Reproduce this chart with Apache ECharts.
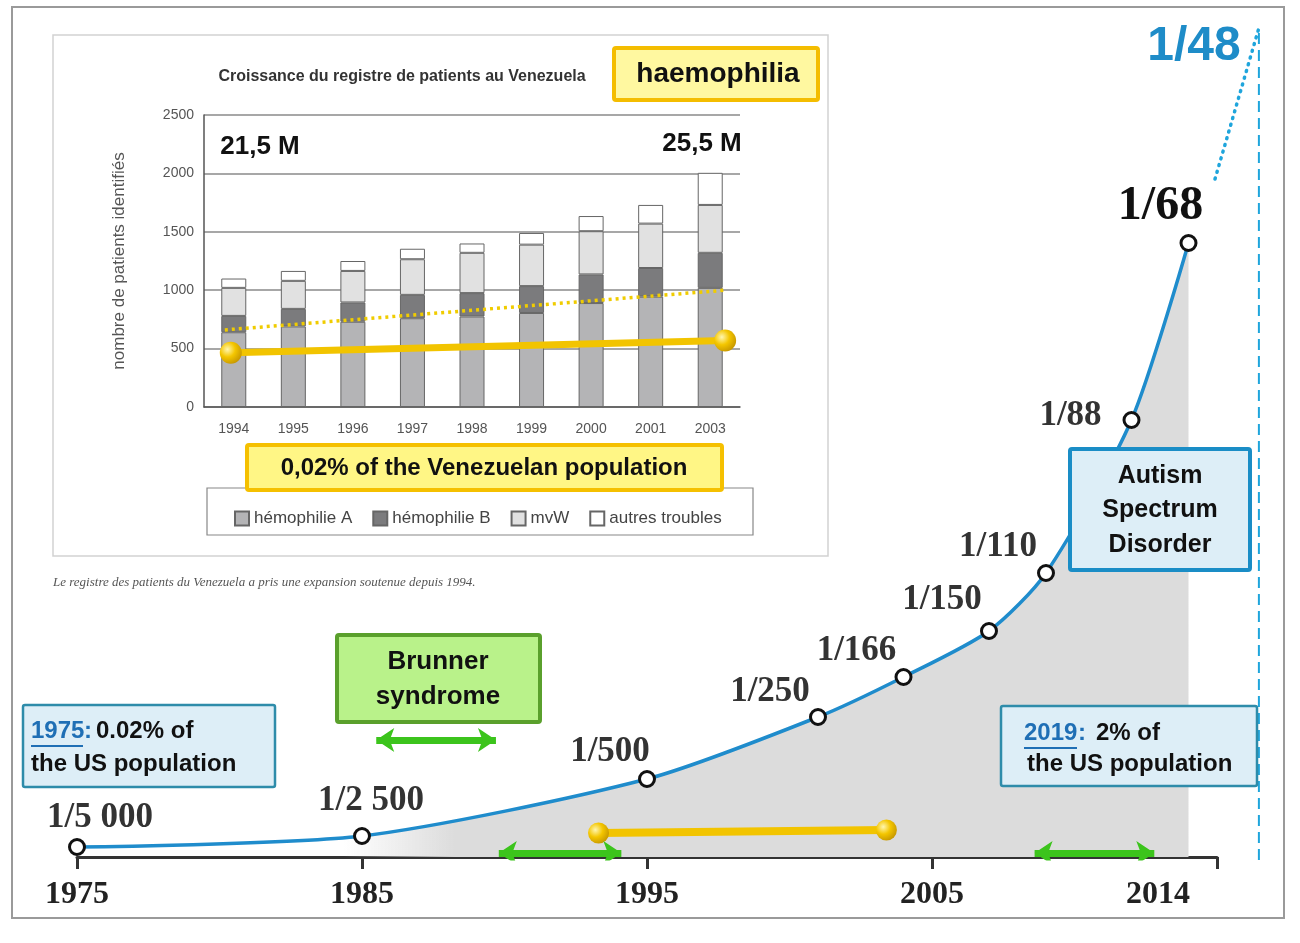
<!DOCTYPE html>
<html lang="en">
<head>
    <meta charset="UTF-8">
    <title>Autism / haemophilia</title>
    <script src="https://cdn.jsdelivr.net/npm/echarts@6/dist/echarts.min.js"></script>
    <style>
        html, body, #main {
            width: 100%;
            height: 100%;
            margin: 0;
            background: #fff;
        }
    </style>
</head>
<body>
<div id="main"></div>
<script>
    // main curve : prevalence labels and the height of the curve
    var years = [1975, 1985, 1995, 2001, 2004, 2007, 2009, 2012, 2014];
    var prevLabels = ['1/5 000', '1/2 500', '1/500', '1/250', '1/166', '1/150', '1/110', '1/88', '1/68'];
    var curveLevel = [10, 21, 78, 140, 180, 226, 284, 437, 614];
    var yearTicks = [1975, 1985, 1995, 2005, 2015];
    var yearTickText = ['1975', '1985', '1995', '2005', '2014'];

    // projection towards 1/48 and the vertical marker
    var projection = [[2014.93, 678], [2016.47, 829]];
    var markerLine = [[2016.47, -3], [2016.47, 829]];

    // spans on the time axis
    var venezuelaSpan = [[1993.3, 24], [2003.4, 27]];
    var greenSpans = [[1985.5, 1989.7, 117], [1989.8, 1994.1, 4], [2008.6, 2012.8, 4]];

    // inset : registre des patients au Venezuela
    var regYears = ['1994', '1995', '1996', '1997', '1998', '1999', '2000', '2001', '2003'];
    var hemoA = [640, 690, 730, 760, 775, 805, 890, 945, 1020];
    var hemoB = [140, 150, 165, 200, 200, 230, 245, 245, 300];
    var mvW = [240, 240, 270, 305, 345, 355, 370, 380, 410];
    var autres = [80, 85, 85, 90, 80, 100, 130, 160, 275];
    var trendDotted = [[-0.15, 660], [8.25, 1000]];
    var popLine = [[-0.05, 465], [8.25, 570]];

    // label placement around each point (layout only)
    var labelOffsets = [[23, -29], [9, -35], [-37, -27], [-48, -25], [-47, -26], [-47, -31], [-48, -26], [-61, -4], [-28, -36]];

    var chart = echarts.init(document.getElementById('main'));

    var SANS = 'Liberation Sans, Arial, sans-serif';
    var SERIF = 'Liberation Serif, Times New Roman, serif';

    function txt(x, y, str, size, extra) {
        return {
            type: 'text', x: x, y: y, z: 100,
            style: Object.assign({
                text: str, fontSize: size, fontWeight: 'bold', fontFamily: SANS,
                fill: '#111', align: 'center', verticalAlign: 'middle'
            }, extra || {})
        };
    }

    function box(x, y, w, h, fill, stroke, lw) {
        return {
            type: 'rect', z: 90,
            shape: {x: x, y: y, width: w, height: h, r: 2},
            style: {fill: fill, stroke: stroke, lineWidth: lw}
        };
    }

    var curveData = years.map(function (y, i) {
        var d = {value: [y, curveLevel[i]], label: {offset: labelOffsets[i]}};
        if (i === years.length - 1) {
            d.label.fontSize = 48;
            d.label.color = '#111';
        }
        return d;
    });

    var ball = new echarts.graphic.RadialGradient(0.35, 0.35, 0.7, [
        {offset: 0, color: '#fff6b0'},
        {offset: 0.5, color: '#f4c600'},
        {offset: 1, color: '#c79800'}
    ]);

    var option = {
        animation: false,
        grid: [
            {left: 77, top: 7, width: 1140, height: 850},
            {left: 204, top: 115, width: 536, height: 292},
            // same time scale as grid 0, a little wider, for what lies past the axis end
            {left: 77, top: 7, width: 1197, height: 850}
        ],
        xAxis: [
            {
                type: 'value', gridIndex: 0, min: 1975, max: 2015, interval: 10,
                axisLine: {lineStyle: {color: '#333', width: 3}},
                axisTick: {length: 12, lineStyle: {color: '#333', width: 3}},
                splitLine: {show: false},
                axisLabel: {
                    margin: 22, fontFamily: SERIF, fontWeight: 'bold', fontSize: 32, color: '#222',
                    formatter: function (v) {
                        var i = yearTicks.indexOf(v);
                        if (i < 0) return '';
                        return i === yearTicks.length - 1 ? '{s|' + yearTickText[i] + '}' : yearTickText[i];
                    },
                    rich: {s: {padding: [0, 118, 0, 0], fontFamily: SERIF, fontWeight: 'bold', fontSize: 32, color: '#222'}}
                }
            },
            {
                type: 'category', gridIndex: 1, data: regYears,
                axisLine: {lineStyle: {color: '#555', width: 1.5}},
                axisTick: {length: 6, lineStyle: {color: '#555'}},
                axisLabel: {margin: 15, fontSize: 14, color: '#555', fontFamily: SANS}
            },
            {type: 'value', gridIndex: 1, min: -0.5, max: 8.5, show: false},
            {type: 'value', gridIndex: 2, min: 1975, max: 2017, show: false}
        ],
        yAxis: [
            {type: 'value', gridIndex: 0, min: 0, max: 850, show: false},
            {
                type: 'value', gridIndex: 1, min: 0, max: 2500, interval: 500,
                name: 'nombre de patients identifiés', nameLocation: 'middle', nameGap: 76,
                nameTextStyle: {fontSize: 17, color: '#555', fontFamily: SANS},
                axisLine: {show: true, onZero: false, lineStyle: {color: '#555', width: 1.5}},
                axisTick: {show: false},
                splitLine: {lineStyle: {color: '#8a8a8a', width: 1.5}},
                axisLabel: {
                    margin: 10, fontSize: 14, color: '#555', fontFamily: SANS,
                    formatter: function (v) { return String(v); }
                }
            },
            {type: 'value', gridIndex: 2, min: 0, max: 850, show: false}
        ],
        legend: {
            data: ['hémophilie A', 'hémophilie B', 'mvW', 'autres troubles'],
            left: 229, top: 505, icon: 'rect', itemWidth: 14, itemHeight: 14, itemGap: 20,
            selectedMode: false,
            textStyle: {fontSize: 17, color: '#444', fontFamily: SANS}
        },
        series: [
            {
                type: 'line', xAxisIndex: 0, yAxisIndex: 0, z: 3,
                data: curveData, smooth: 0.25,
                symbol: 'circle', symbolSize: 15,
                itemStyle: {color: '#fff', borderColor: '#111', borderWidth: 3},
                lineStyle: {color: '#1f8ccc', width: 3.5},
                areaStyle: {
                    opacity: 1,
                    color: new echarts.graphic.LinearGradient(0, 0, 1, 0, [
                        {offset: 0, color: 'rgba(220,220,220,0)'},
                        {offset: 0.24, color: 'rgba(220,220,220,0)'},
                        {offset: 0.34, color: '#dcdcdc'},
                        {offset: 1, color: '#dcdcdc'}
                    ])
                },
                label: {
                    show: true, position: 'inside', align: 'center', verticalAlign: 'middle',
                    fontFamily: SERIF, fontWeight: 'bold', fontSize: 35, color: '#333',
                    formatter: function (p) { return prevLabels[p.dataIndex]; }
                }
            },
            {
                type: 'line', xAxisIndex: 3, yAxisIndex: 2, symbol: 'none',
                data: projection,
                lineStyle: {color: '#1fa5dc', width: 3.5, type: [1, 6], cap: 'round'}
            },
            {
                type: 'line', xAxisIndex: 3, yAxisIndex: 2, clip: false, symbol: 'none',
                data: markerLine,
                lineStyle: {color: '#1fa5dc', width: 2, type: [11, 6]}
            },
            {
                type: 'line', xAxisIndex: 0, yAxisIndex: 0, z: 4,
                data: venezuelaSpan, symbol: 'circle', symbolSize: 21,
                itemStyle: {color: ball},
                lineStyle: {color: '#f2c400', width: 8}
            },
            {
                type: 'lines', coordinateSystem: 'cartesian2d', xAxisIndex: 0, yAxisIndex: 0, z: 5,
                symbol: ['arrow', 'arrow'], symbolSize: 18,
                lineStyle: {color: '#3cc41c', width: 7, opacity: 1},
                data: greenSpans.map(function (s) {
                    return {coords: [[s[0], s[2]], [s[1], s[2]]]};
                })
            },
            {
                name: 'hémophilie A', type: 'bar', stack: 'reg', xAxisIndex: 1, yAxisIndex: 1, barWidth: 25,
                itemStyle: {color: '#b4b4b6', borderColor: '#666', borderWidth: 1}, data: hemoA
            },
            {
                name: 'hémophilie B', type: 'bar', stack: 'reg', xAxisIndex: 1, yAxisIndex: 1, barWidth: 25,
                itemStyle: {color: '#7b7b7d', borderColor: '#666', borderWidth: 1}, data: hemoB
            },
            {
                name: 'mvW', type: 'bar', stack: 'reg', xAxisIndex: 1, yAxisIndex: 1, barWidth: 25,
                itemStyle: {color: '#e1e1e1', borderColor: '#666', borderWidth: 1}, data: mvW
            },
            {
                name: 'autres troubles', type: 'bar', stack: 'reg', xAxisIndex: 1, yAxisIndex: 1, barWidth: 25,
                itemStyle: {color: '#ffffff', borderColor: '#666', borderWidth: 1}, data: autres
            },
            {
                type: 'line', xAxisIndex: 2, yAxisIndex: 1, symbol: 'none', z: 6,
                data: trendDotted,
                lineStyle: {color: '#f0cc00', width: 3.5, type: [3, 4]}
            },
            {
                type: 'line', xAxisIndex: 2, yAxisIndex: 1, z: 7,
                data: popLine, symbol: 'circle', symbolSize: 22,
                itemStyle: {color: ball},
                lineStyle: {color: '#f2c400', width: 7}
            }
        ],
        graphic: {
            elements: [
                // outer frame and inset panel
                {type: 'rect', z: 0, shape: {x: 12, y: 7, width: 1272, height: 911}, style: {fill: 'none', stroke: '#9a9a9a', lineWidth: 2}},
                {type: 'rect', z: 0, shape: {x: 53, y: 35, width: 775, height: 521}, style: {fill: '#fff', stroke: '#d2d2d2', lineWidth: 1.5}},
                {type: 'rect', z: 1, shape: {x: 207, y: 488, width: 546, height: 47}, style: {fill: 'none', stroke: '#888', lineWidth: 1.2}},
                txt(402, 77, 'Croissance du registre de patients au Venezuela', 16, {fill: '#333'}),
                txt(53, 583, 'Le registre des patients du Venezuela a pris une expansion soutenue depuis 1994.', 13,
                    {fontFamily: SERIF, fontStyle: 'italic', fontWeight: 'normal', fill: '#555', align: 'left'}),
                box(614, 48, 204, 52, '#fff8a0', '#f4bd00', 4),
                txt(718, 74, 'haemophilia', 28),
                txt(260, 147, '21,5 M', 26),
                txt(702, 144, '25,5 M', 26),
                box(247, 445, 475, 45, '#fff685', '#f5c000', 4),
                txt(484, 468, '0,02% of the Venezuelan population', 24),

                // 1975 box
                box(23, 705, 252, 82, '#ddeef7', '#2e8caa', 2.5),
                txt(31, 731, '1975', 24, {fill: '#1f6fb5', align: 'left'}),
                txt(84, 731, ':', 24, {fill: '#1f6fb5', align: 'left'}),
                txt(96, 731, '0.02% of', 24, {align: 'left'}),
                txt(31, 764, 'the US population', 24, {align: 'left'}),
                {type: 'line', z: 100, shape: {x1: 31, y1: 746, x2: 83, y2: 746}, style: {stroke: '#1f6fb5', lineWidth: 2}},

                // 2019 box
                box(1001, 706, 256, 80, '#ddeef7', '#2e8caa', 2.5),
                txt(1024, 733, '2019', 24, {fill: '#1f6fb5', align: 'left'}),
                txt(1078, 733, ':', 24, {fill: '#1f6fb5', align: 'left'}),
                txt(1096, 733, '2% of', 24, {align: 'left'}),
                txt(1027, 764, 'the US population', 24, {align: 'left'}),
                {type: 'line', z: 100, shape: {x1: 1024, y1: 748, x2: 1077, y2: 748}, style: {stroke: '#1f6fb5', lineWidth: 2}},

                // Brunner
                box(337, 635, 203, 87, '#b9f28a', '#5aa02c', 4),
                txt(438, 662, 'Brunner', 26),
                txt(438, 697, 'syndrome', 26),

                // Autism
                box(1070, 449, 180, 121, '#ddeef7', '#1a8dc6', 4),
                txt(1160, 476, 'Autism', 25),
                txt(1160, 510, 'Spectrum', 25),
                txt(1160, 545, 'Disorder', 25),

                txt(1194, 47, '1/48', 48, {fill: '#1e8cc8'})
            ]
        }
    };

    chart.setOption(option);
    window.onresize = chart.resize;
</script>
</body>
</html>
